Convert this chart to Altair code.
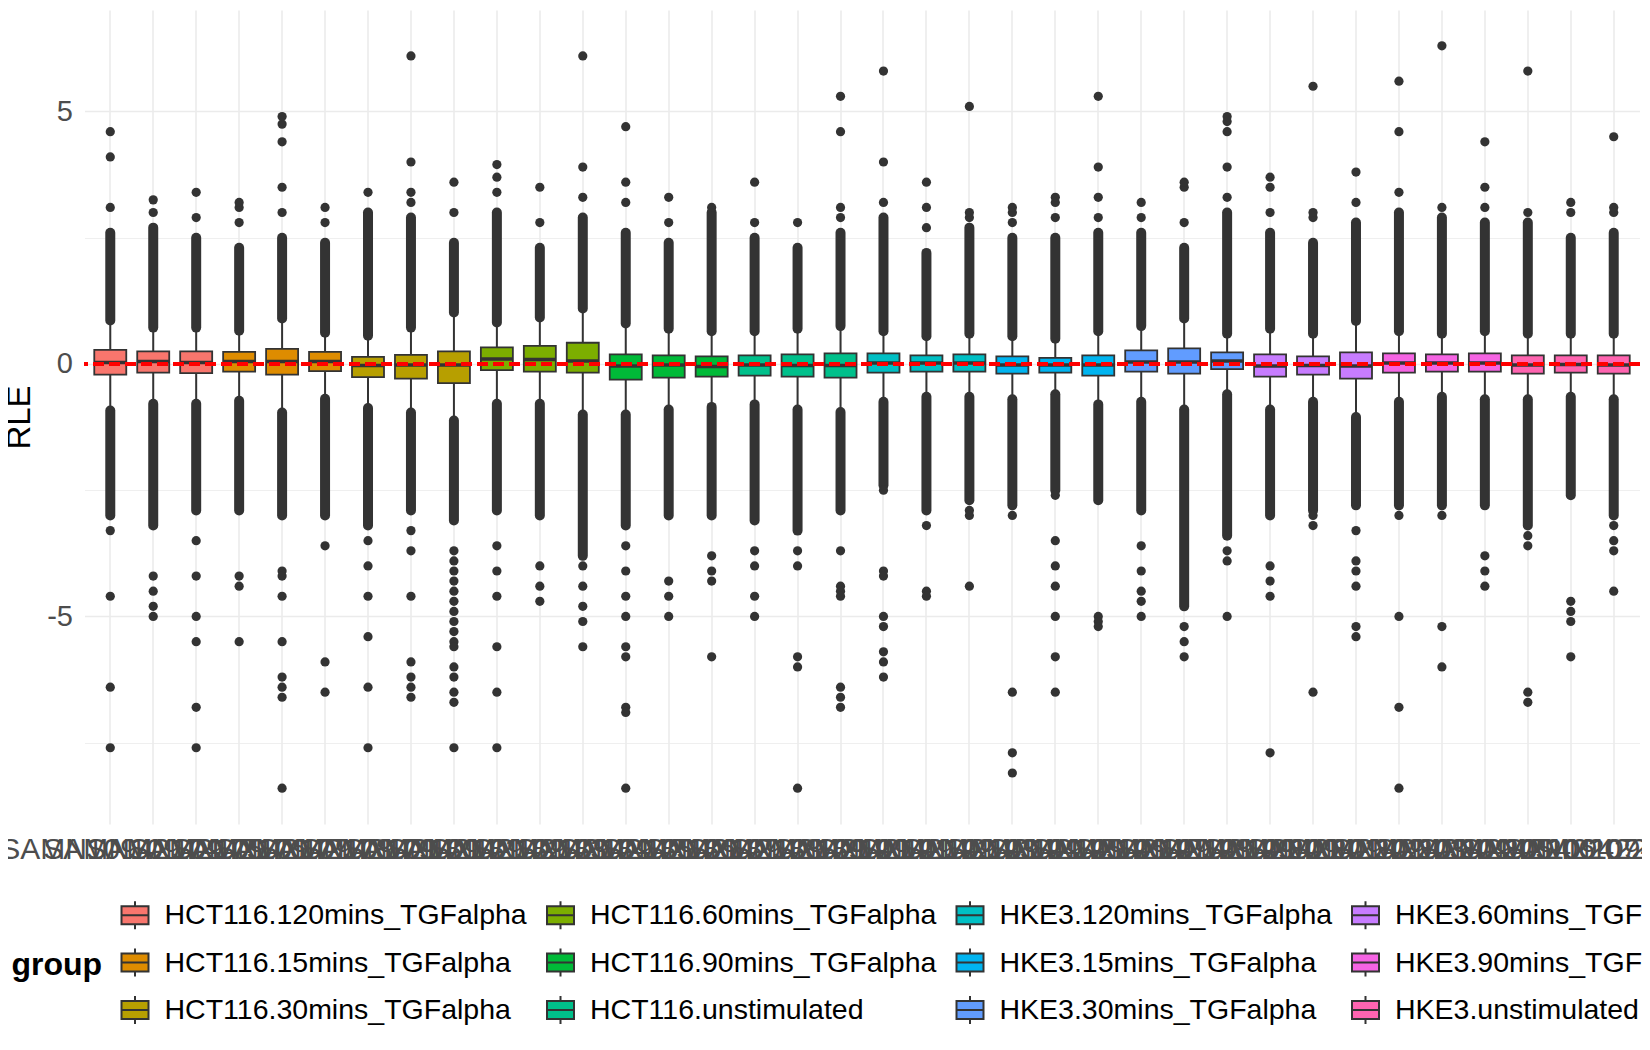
import altair as alt
import pandas as pd

# sample ids (x axis) and their groups
samples = [
    "SAMN10942174", "SAMN10942175", "SAMN10942176", "SAMN10942177", "SAMN10942178", "SAMN10942179",
    "SAMN10942180", "SAMN10942181", "SAMN10942182", "SAMN10942183", "SAMN10942184", "SAMN10942185",
    "SAMN10942186", "SAMN10942187", "SAMN10942188", "SAMN10942189", "SAMN10942190", "SAMN10942191",
    "SAMN10942192", "SAMN10942193", "SAMN10942194", "SAMN10942195", "SAMN10942196", "SAMN10942197",
    "SAMN10942198", "SAMN10942199", "SAMN10942200", "SAMN10942201", "SAMN10942202", "SAMN10942203",
    "SAMN10942204", "SAMN10942205", "SAMN10942206", "SAMN10942207", "SAMN10942208", "SAMN10942209",
]
group_names = [
    "HCT116.120mins_TGFalpha", "HCT116.15mins_TGFalpha", "HCT116.30mins_TGFalpha",
    "HCT116.60mins_TGFalpha", "HCT116.90mins_TGFalpha", "HCT116.unstimulated",
    "HKE3.120mins_TGFalpha", "HKE3.15mins_TGFalpha", "HKE3.30mins_TGFalpha",
    "HKE3.60mins_TGFalpha", "HKE3.90mins_TGFalpha", "HKE3.unstimulated",
]
group_colors = [
    "#F8766D", "#DE8C00", "#B79F00", "#7CAE00", "#00BA38", "#00C08B",
    "#00BFC4", "#00B4F0", "#619CFF", "#C77CFF", "#F564E3", "#FF64B0",
]
groups = [g for g in group_names for _ in range(3)]

# box statistics
q1 = [-0.21, -0.17, -0.18, -0.15, -0.21, -0.14, -0.26, -0.29, -0.38, -0.12, -0.15, -0.17,
      -0.31, -0.27, -0.25, -0.23, -0.25, -0.27, -0.17, -0.15, -0.15, -0.19, -0.17, -0.23,
      -0.15, -0.19, -0.10, -0.25, -0.21, -0.29, -0.17, -0.15, -0.15, -0.19, -0.17, -0.19]
med = [0.03, 0.05, 0.03, 0.05, 0.05, 0.05, -0.03, -0.02, -0.02, 0.10, 0.09, 0.06,
       -0.04, -0.02, -0.05, -0.02, -0.03, -0.03, 0.02, 0.02, 0.02, -0.02, -0.02, -0.02,
       0.04, 0.04, 0.06, -0.04, -0.03, -0.04, 0.02, 0.02, 0.02, -0.02, -0.01, -0.02]
q3 = [0.28, 0.25, 0.25, 0.24, 0.30, 0.24, 0.14, 0.18, 0.25, 0.33, 0.36, 0.42,
      0.19, 0.17, 0.15, 0.17, 0.19, 0.21, 0.21, 0.17, 0.19, 0.15, 0.12, 0.17,
      0.27, 0.31, 0.23, 0.19, 0.15, 0.23, 0.21, 0.19, 0.21, 0.17, 0.17, 0.17]
whisk_lo = [-0.92, -0.79, -0.79, -0.73, -0.96, -0.69, -0.87, -0.96, -1.12, -0.79, -0.79, -1.0,
            -1.0, -0.9, -0.85, -0.8, -0.9, -0.95, -0.75, -0.65, -0.65, -0.7, -0.6, -0.8,
            -0.75, -0.9, -0.6, -0.9, -0.75, -1.05, -0.75, -0.65, -0.7, -0.7, -0.65, -0.7]
whisk_hi = [0.86, 0.72, 0.72, 0.66, 0.90, 0.62, 0.56, 0.72, 1.02, 0.82, 0.92, 1.1,
            0.8, 0.7, 0.65, 0.65, 0.7, 0.75, 0.65, 0.55, 0.6, 0.55, 0.5, 0.65,
            0.75, 0.9, 0.6, 0.7, 0.6, 0.85, 0.65, 0.6, 0.65, 0.6, 0.6, 0.6]
# extent of the packed outlier columns
dense_hi = [2.6, 2.7, 2.5, 2.3, 2.5, 2.4, 3.0, 2.9, 2.4, 3.0, 2.3, 2.9,
            2.6, 2.4, 3.0, 2.5, 2.3, 2.6, 2.9, 2.2, 2.7, 2.5, 2.5, 2.6,
            2.6, 2.3, 3.0, 2.6, 2.4, 2.8, 3.0, 2.9, 2.8, 2.8, 2.5, 2.6]
dense_lo = [-3.0, -3.2, -2.9, -2.9, -3.0, -3.0, -3.2, -2.9, -3.1, -2.9, -3.0, -3.8,
            -3.2, -3.0, -3.0, -3.1, -3.3, -2.9, -2.4, -2.9, -2.7, -2.8, -2.5, -2.7,
            -2.9, -4.8, -3.4, -3.0, -2.9, -2.8, -2.8, -2.8, -2.8, -3.2, -2.6, -3.0]
# isolated outliers per sample
outliers = [
    [3.1, 4.1, 4.6, -3.3, -4.6, -6.4, -7.6],
    [3.0, 3.25, -4.2, -4.5, -4.8, -5.0],
    [2.9, 3.4, -3.5, -4.2, -5.0, -5.5, -6.8, -7.6],
    [2.8, 3.1, 3.2, -4.2, -4.4, -5.5],
    [3.0, 3.5, 4.4, 4.75, 4.9, -4.1, -4.2, -4.6, -5.5, -6.2, -6.4, -6.6, -8.4],
    [2.8, 3.1, -3.6, -5.9, -6.5],
    [3.4, -3.5, -4.0, -4.6, -5.4, -6.4, -7.6],
    [3.2, 3.4, 4.0, 6.1, -3.3, -3.7, -4.6, -5.9, -6.2, -6.4, -6.6],
    [3.0, 3.6, -3.7, -3.9, -4.1, -4.3, -4.5, -4.7, -4.9, -5.1, -5.3, -5.5, -5.6, -6.0, -6.2, -6.5, -6.7, -7.6],
    [3.4, 3.7, 3.95, -3.6, -4.1, -4.6, -5.6, -6.5, -7.6],
    [2.8, 3.5, -4.0, -4.4, -4.7],
    [3.3, 3.9, 6.1, -4.0, -4.4, -4.8, -5.1, -5.6],
    [3.2, 3.6, 4.7, -3.6, -4.1, -4.6, -5.0, -5.6, -5.8, -6.8, -6.9, -8.4],
    [2.8, 3.3, -4.3, -4.6, -5.0],
    [3.1, -3.8, -4.1, -4.3, -5.8],
    [2.8, 3.6, -3.7, -4.0, -4.6, -5.0],
    [2.8, -3.7, -4.0, -5.8, -6.0, -8.4],
    [2.9, 3.1, 4.6, 5.3, -3.7, -4.4, -4.5, -4.6, -6.4, -6.6, -6.8],
    [3.2, 4.0, 5.8, -2.5, -4.1, -4.2, -5.0, -5.2, -5.7, -5.9, -6.2],
    [2.7, 3.1, 3.6, -3.2, -4.5, -4.6],
    [2.9, 3.0, 5.1, -2.9, -3.0, -4.4],
    [2.8, 3.0, 3.1, -3.0, -6.5, -7.7, -8.1],
    [2.9, 3.2, 3.3, -2.6, -3.5, -4.0, -4.4, -5.0, -5.8, -6.5],
    [2.9, 3.3, 3.9, 5.3, -5.0, -5.1, -5.2],
    [2.9, 3.2, -3.6, -4.1, -4.5, -4.7, -5.0],
    [2.8, 3.5, 3.6, -5.2, -5.5, -5.8],
    [3.3, 3.9, 4.6, 4.8, 4.9, -3.7, -3.9, -5.0],
    [3.0, 3.5, 3.7, -4.0, -4.3, -4.6, -7.7],
    [2.9, 3.0, 5.5, -3.0, -3.2, -6.5],
    [3.2, 3.8, -3.3, -3.9, -4.1, -4.4, -5.2, -5.4],
    [3.4, 4.6, 5.6, -3.0, -5.0, -6.8, -8.4],
    [3.1, 6.3, -3.0, -5.2, -6.0],
    [3.1, 3.5, 4.4, -3.8, -4.1, -4.4],
    [3.0, 5.8, -3.4, -3.6, -6.5, -6.7],
    [3.0, 3.2, -4.7, -4.9, -5.1, -5.8],
    [3.0, 3.1, 4.5, -3.2, -3.5, -3.7, -4.5],
]

boxes = pd.DataFrame({
    "sample": samples, "group": groups, "q1": q1, "med": med, "q3": q3,
    "lo": whisk_lo, "hi": whisk_hi, "dlo": dense_lo, "dhi": dense_hi,
})
points = pd.DataFrame(
    [{"sample": s, "value": v} for s, vals in zip(samples, outliers) for v in vals]
)

# legend fills by row, so reorder the domain to read column-wise like the original
legend_order = [group_names[c * 3 + r] for r in range(3) for c in range(4)]
legend_colors = [group_colors[group_names.index(g)] for g in legend_order]

dark = "#333333"
x_enc = alt.X(
    "sample:N",
    sort=samples,
    title=None,
    scale=alt.Scale(paddingInner=0, paddingOuter=0.1),
    axis=alt.Axis(
        labelAngle=0, labelFontSize=30, labelColor="#4d4d4d", labelLimit=500,
        labelOverlap=False, labelBound=False, labelPadding=10, ticks=False, domain=False,
        grid=True, gridColor="#ebebeb", gridWidth=1.6,
    ),
)
y_scale = alt.Scale(domain=[-9.11, 7.01], nice=False, zero=False)
y_axis = alt.Axis(
    values=[-7.5, -5, -2.5, 0, 2.5, 5],
    labelExpr="datum.value % 5 == 0 ? (datum.value < 0 ? '-' + abs(datum.value) : '' + datum.value) : ''",
    labelFontSize=29, labelColor="#4d4d4d", labelPadding=12, ticks=False, domain=False,
    grid=True, gridColor="#ebebeb",
    gridWidth={"condition": {"test": "datum.value % 5 == 0", "value": 1.6}, "value": 0.8},
    title="RLE", titleFontSize=33, titleFontWeight="normal", titleColor="black", titlePadding=10,
)

base = alt.Chart(boxes)

whiskers = base.mark_rule(color=dark, strokeWidth=2).encode(
    x=x_enc, y=alt.Y("lo:Q", scale=y_scale, axis=y_axis), y2="hi:Q"
)
dense_up = base.mark_rule(color=dark, strokeWidth=10, strokeCap="round").encode(
    x=x_enc, y="hi:Q", y2="dhi:Q"
)
dense_down = base.mark_rule(color=dark, strokeWidth=10, strokeCap="round").encode(
    x=x_enc, y="lo:Q", y2="dlo:Q"
)
dots = alt.Chart(points).mark_circle(color=dark, size=85, opacity=1).encode(
    x=x_enc, y="value:Q"
)
box_symbol = "M-1,-0.67H1V0.67H-1Z M-1,0H1 M0,-0.67V-1.04 M0,0.67V1.04"
box = base.mark_bar(size=32, stroke=dark, strokeWidth=1.8).encode(
    x=x_enc,
    y="q1:Q",
    y2="q3:Q",
    fill=alt.Fill(
        "group:N",
        scale=alt.Scale(domain=legend_order, range=legend_colors),
        legend=alt.Legend(
            orient="none", legendX=-73, legendY=890.5, columns=4, direction="horizontal",
            title="group", titleOrient="left", titleAnchor="middle", titleBaseline="middle",
            titleFontSize=32, titleFontWeight="bold", titleColor="black", titlePadding=18,
            labelFontSize=28.5, labelColor="black", labelLimit=800, labelOffset=15,
            symbolType=box_symbol, symbolSize=729, symbolStrokeColor=dark,
            symbolStrokeWidth=2, symbolOpacity=1, rowPadding=10.5, columnPadding=15.5,
        ),
    ),
)
medians = base.mark_tick(color=dark, size=32, thickness=3.5, opacity=1).encode(
    x=x_enc, y="med:Q"
)
zero_line = alt.Chart(boxes).mark_rule(
    color="red", strokeWidth=2.5, strokeDash=[10, 6]
).encode(y=alt.datum(0))

chart = (
    alt.layer(whiskers, dense_up, dense_down, dots, box, medians, zero_line)
    .properties(
        width=1555, height=814,
        autosize=alt.AutoSizeParams(type="none"),
        padding={"left": 76.5, "top": 2, "right": 2.5, "bottom": 218},
    )
    .configure(font="Liberation Sans")
    .configure_view(stroke=None)
)

chart.save("out.html", embed_options={"renderer": "svg", "actions": False})
